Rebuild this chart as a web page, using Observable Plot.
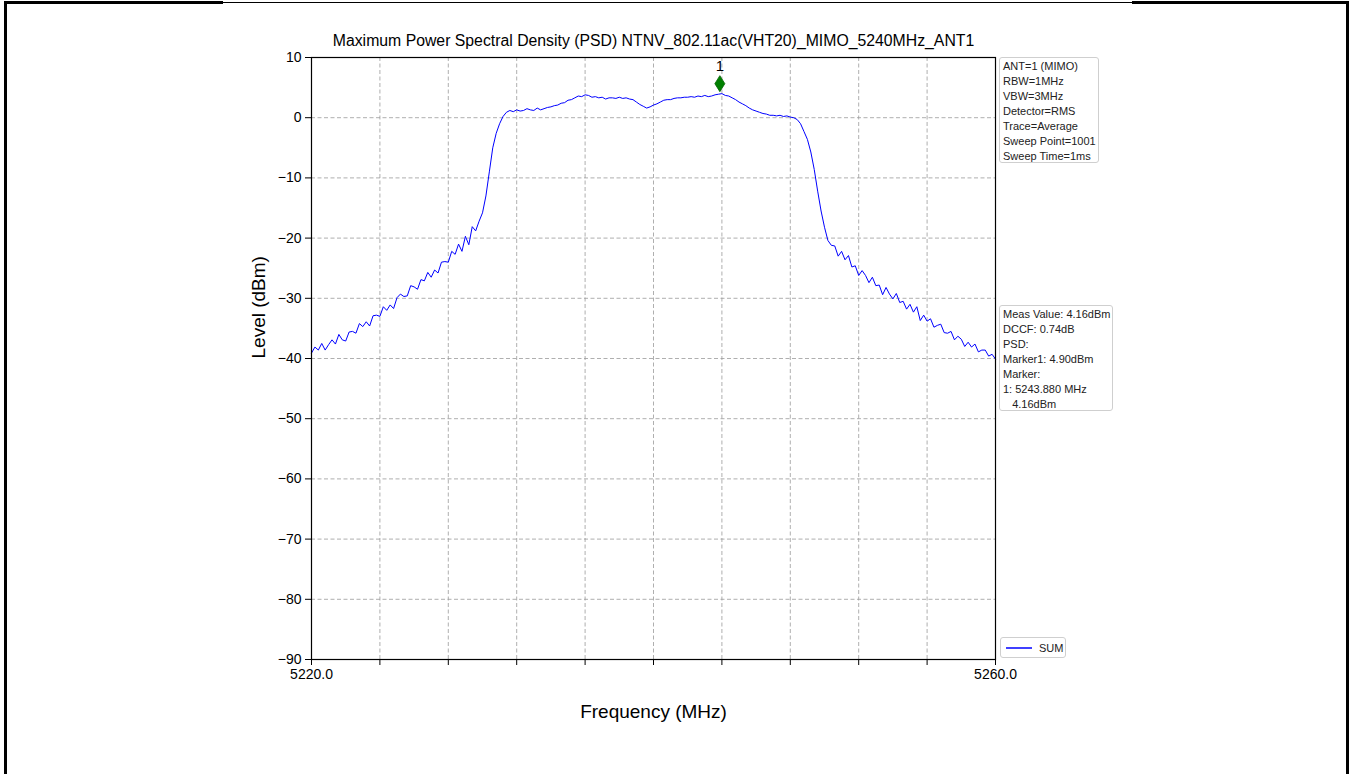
<!DOCTYPE html>
<html><head><meta charset="utf-8">
<script src="https://cdn.jsdelivr.net/npm/d3@7"></script>
<script src="https://cdn.jsdelivr.net/npm/@observablehq/plot@0.6"></script>
<style>
body{margin:0;background:#fff;font-family:"Liberation Sans",Arial,sans-serif;}
#page{position:relative;width:1352px;height:774px;overflow:hidden;background:#fff;}
#chart{position:absolute;left:0;top:0;}
.edge{position:absolute;background:#000;}
.box{position:absolute;background:#fff;border:1px solid #cfcfcf;border-radius:3px;font-size:11px;line-height:15px;color:#222;white-space:pre;padding:1px 3px 1px 3px;box-sizing:border-box;}
</style></head><body>
<div id="page">
  <div id="chart"></div>
  <div class="edge" style="left:4px;top:1px;width:3px;height:780px"></div>
  <div class="edge" style="left:1346px;top:1px;width:3px;height:780px"></div>
  <div class="edge" style="left:4px;top:1px;width:219px;height:3px"></div>
  <div class="edge" style="left:223px;top:2px;width:909px;height:1px"></div>
  <div class="edge" style="left:1132px;top:1px;width:217px;height:3px"></div>
  <div class="box" id="info1" style="left:999px;top:57px;width:100px;height:106px"></div>
  <div class="box" id="info2" style="left:999px;top:305px;width:114px;height:106px"></div>
  <div class="box" id="legend" style="left:1000px;top:637px;width:66px;height:21px;padding:0"></div>
</div>
<script>
// Sweep definition
const startMHz = 5220;
const stepMHz = 0.2;
// Trace levels (dBm), every 0.2 MHz from 5220 to 5260
const levels = [
  -39.1,-38.1,-38.6,-37.5,-38.6,-37.7,-36.9,-37.6,-36.0,-36.9,
  -37.1,-35.6,-35.5,-35.8,-34.2,-34.7,-33.9,-34.6,-32.9,-32.8,
  -33.0,-31.4,-32.0,-31.1,-31.7,-29.9,-29.3,-29.7,-29.6,-27.9,
  -28.1,-28.5,-26.9,-27.1,-25.7,-26.5,-25.3,-25.8,-24.0,-23.9,
  -24.0,-22.2,-22.7,-21.0,-22.2,-19.7,-21.1,-18.1,-18.8,-17.2,
  -15.8,-13.0,-9.0,-5.0,-2.6,-1.0,0.2,0.9,1.2,1.0,
  1.3,1.1,1.2,1.5,1.3,1.2,1.6,1.3,1.5,1.7,
  1.8,2.0,2.1,2.4,2.5,2.9,3.0,3.3,3.6,3.5,
  3.8,3.7,3.4,3.5,3.3,3.4,3.1,3.3,3.3,3.2,
  3.4,3.2,3.3,3.1,3.0,2.6,2.2,1.9,1.6,1.8,
  2.1,2.3,2.6,2.9,3.0,3.0,3.2,3.3,3.3,3.4,
  3.4,3.5,3.4,3.6,3.5,3.7,3.5,3.6,3.8,3.9,
  4.0,3.7,3.6,3.3,3.0,2.6,2.3,2.0,1.6,1.3,
  1.1,0.9,0.7,0.6,0.4,0.4,0.3,0.4,0.2,0.3,
  0.1,0.0,-0.3,-1.0,-2.3,-3.6,-5.7,-8.6,-12.2,-15.5,
  -18.2,-20.4,-21.2,-21.3,-23.0,-22.2,-23.6,-22.9,-24.8,-24.6,
  -26.2,-25.4,-26.2,-27.4,-26.5,-27.9,-27.8,-29.4,-28.2,-29.3,
  -30.1,-29.2,-30.7,-30.5,-31.8,-31.0,-32.3,-31.4,-33.7,-32.8,
  -33.8,-33.4,-34.8,-34.5,-34.3,-35.7,-35.8,-35.5,-36.9,-36.3,
  -36.8,-38.0,-37.3,-38.1,-37.6,-38.9,-38.6,-38.6,-39.6,-39.3,
  -40.1
];
const xTicks = [5220,5224,5228,5232,5236,5240,5244,5248,5252,5256,5260];
const xLabeled = [5220,5260];
const yTicks = [10,0,-10,-20,-30,-40,-50,-60,-70,-80,-90];
const markerFreq = [5243.88];
const markerLevel = [4.16];
const markerName = ["1"];
const titleText = "Maximum Power Spectral Density (PSD) NTNV_802.11ac(VHT20)_MIMO_5240MHz_ANT1";
const xLabel = "Frequency (MHz)";
const yLabel = "Level (dBm)";
const infoLines1 = ["ANT=1 (MIMO)","RBW=1MHz","VBW=3MHz","Detector=RMS","Trace=Average","Sweep Point=1001","Sweep Time=1ms"];
const infoLines2 = ["Meas Value: 4.16dBm","DCCF: 0.74dB","PSD:","Marker1: 4.90dBm","Marker:","1: 5243.880 MHz","   4.16dBm"];
const seriesName = "SUM";

const trace = levels.map((v, i) => ({f: startMHz + i * stepMHz, level: v}));
const markers = markerFreq.map((f, i) => ({f, level: markerLevel[i], name: markerName[i]}));

const thinDiamond = {
  draw(ctx, size) {
    const s = Math.sqrt(size / Math.PI);
    ctx.moveTo(0, -1.6 * s);
    ctx.lineTo(s, 0);
    ctx.lineTo(0, 1.6 * s);
    ctx.lineTo(-s, 0);
    ctx.closePath();
  }
};

const font = "'Liberation Sans', Arial, sans-serif";
const gridStyle = {stroke: "#9a9a9a", strokeOpacity: 1, strokeWidth: 0.8, strokeDasharray: "4,2.5"};

const chart = Plot.plot({
  width: 1352,
  height: 774,
  marginLeft: 311,
  marginRight: 357,
  marginTop: 57,
  marginBottom: 115,
  style: {fontFamily: font, fontSize: "14px", color: "black", background: "transparent", overflow: "visible"},
  x: {domain: [5220, 5260]},
  y: {domain: [-90, 10]},
  marks: [
    Plot.gridX(xTicks, gridStyle),
    Plot.gridY(yTicks, gridStyle),
    Plot.axisX(xTicks, {tickSize: 6, tickPadding: 4, fontSize: 14, label: null,
      tickFormat: d => xLabeled.includes(d) ? d.toFixed(1) : ""}),
    Plot.axisY(yTicks, {tickSize: 6, tickPadding: 4, fontSize: 14, label: null}),
    Plot.line(trace, {x: "f", y: "level", stroke: "#0000ff", strokeWidth: 1}),
    Plot.dot(markers, {x: "f", y: "level", symbol: thinDiamond, r: 5, fill: "#008000", stroke: "#006400", strokeWidth: 0.8, dy: -9}),
    Plot.text(markers, {x: "f", y: "level", text: "name", dy: -26, fontSize: 15, fill: "black"}),
    Plot.frame({stroke: "black", strokeWidth: 1.2}),
    Plot.text([titleText], {text: d => d, frameAnchor: "top", lineAnchor: "middle", dy: -17, fontSize: 15.8, fill: "black"}),
    Plot.text([xLabel], {text: d => d, frameAnchor: "bottom", lineAnchor: "middle", dy: 52, fontSize: 19, fill: "black"}),
    Plot.text([yLabel], {text: d => d, frameAnchor: "left", lineAnchor: "middle", rotate: -90, dx: -53, fontSize: 19, fill: "black"})
  ]
});
document.getElementById("chart").appendChild(chart);

document.getElementById("info1").textContent = infoLines1.join("\n");
document.getElementById("info2").textContent = infoLines2.join("\n");
const lg = document.getElementById("legend");
lg.innerHTML = `<svg width="64" height="19" style="position:absolute;left:0;top:0"><line x1="5" x2="31" y1="10" y2="10" stroke="#0000ff" stroke-width="1.5"/><text x="38" y="14" font-size="11" font-family="Liberation Sans, Arial, sans-serif" fill="#222">${seriesName}</text></svg>`;
</script>
</body></html>
